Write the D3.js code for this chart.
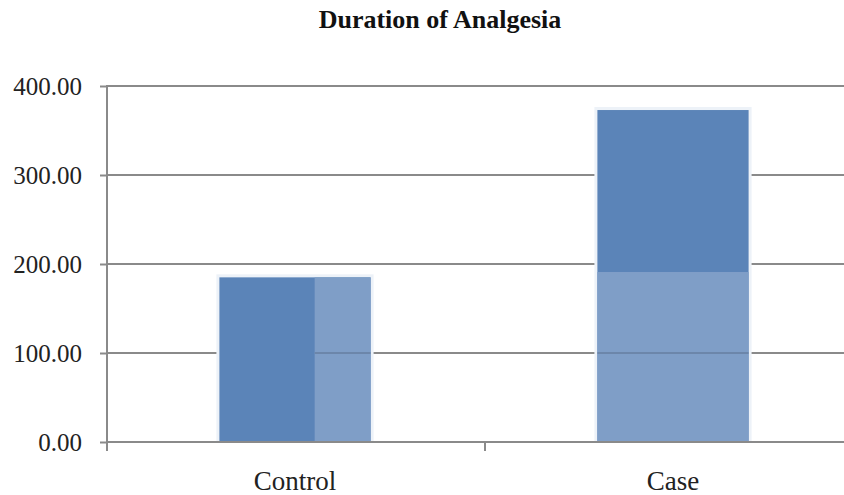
<!DOCTYPE html>
<html>
<head>
<meta charset="utf-8">
<script src="https://cdn.jsdelivr.net/npm/d3@7"></script>
<style>
  html, body { margin: 0; padding: 0; background: #fff; }
  svg { display: block; }
</style>
</head>
<body>
<script>
// Mean duration of analgesia per group
const categories = ["Control", "Case"];
const values = [185, 373];
// Lighter shaded part of each bar: horizontal fraction (x0..x1 of the bar width) and value range (y0..y1)
const shadeX = [[0.63, 1], [0, 1]];
const shadeY = [[0, 185], [0, 191]];
const yTicks = [0, 100, 200, 300, 400];
const title = "Duration of Analgesia";

const W = 844, H = 495;
const svg = d3.select("body").append("svg").attr("width", W).attr("height", H);

const x = d3.scaleBand().domain(categories).range([106, 862]).paddingInner(0).paddingOuter(0);
const y = d3.scaleLinear().domain([0, 400]).range([442, 86]);

const gridColor = "#8a8a8a";
const serif = "'Liberation Serif', 'DejaVu Serif', serif";

// Title
svg.append("text")
  .attr("x", 440).attr("y", 28)
  .attr("text-anchor", "middle")
  .attr("font-family", serif).attr("font-weight", "bold").attr("font-size", 26)
  .attr("fill", "#111")
  .text(title);

// Horizontal gridlines
svg.append("g").selectAll("line").data(yTicks.filter(d => d > 0)).join("line")
  .attr("x1", 106).attr("x2", W)
  .attr("y1", d => y(d)).attr("y2", d => y(d))
  .attr("stroke", gridColor).attr("stroke-width", 2);

// Bars
const bw = x.bandwidth() * 0.4;
const bx = d => x(d) + (x.bandwidth() - bw) / 2;

const bars = svg.append("g");
bars.selectAll("rect.halo").data(categories).join("rect")
  .attr("class", "halo")
  .attr("x", d => bx(d) - 3).attr("width", bw + 6)
  .attr("y", (d, i) => y(values[i]) - 3).attr("height", (d, i) => y(0) - y(values[i]) + 3)
  .attr("fill", "#edf2f8");
bars.selectAll("rect.main").data(categories).join("rect")
  .attr("class", "main")
  .attr("x", d => bx(d)).attr("width", bw)
  .attr("y", (d, i) => y(values[i])).attr("height", (d, i) => y(0) - y(values[i]))
  .attr("fill", "#5b84b8");

// Lighter shaded part, with gridlines showing through
const shade = svg.append("g");
shade.selectAll("rect").data(categories).join("rect")
  .attr("x", (d, i) => bx(d) + bw * shadeX[i][0])
  .attr("width", (d, i) => bw * (shadeX[i][1] - shadeX[i][0]))
  .attr("y", (d, i) => y(shadeY[i][1]))
  .attr("height", (d, i) => y(shadeY[i][0]) - y(shadeY[i][1]))
  .attr("fill", "#7f9ec7");
shade.selectAll("g").data(categories).join("g").each(function(d, i) {
  d3.select(this).selectAll("line")
    .data(yTicks.filter(t => t > shadeY[i][0] && t < shadeY[i][1]))
    .join("line")
    .attr("x1", bx(d) + bw * shadeX[i][0]).attr("x2", bx(d) + bw * shadeX[i][1])
    .attr("y1", t => y(t)).attr("y2", t => y(t))
    .attr("stroke", "#6c86aa").attr("stroke-width", 2);
});

// Y axis
const yAxis = svg.append("g").attr("transform", "translate(107,0)")
  .call(d3.axisLeft(y).tickValues(yTicks).tickFormat(d3.format(".2f")).tickSize(7).tickPadding(18));
yAxis.attr("font-family", serif);
yAxis.select(".domain").attr("stroke", gridColor).attr("stroke-width", 2).attr("d", `M0,${y(400)}V${y(0)}`);
yAxis.selectAll(".tick line").attr("stroke", gridColor).attr("stroke-width", 2);
yAxis.selectAll(".tick text")
  .attr("font-family", serif).attr("font-size", 25).attr("fill", "#222").attr("dy", "0.34em");

// X axis
const xAxis = svg.append("g").attr("transform", `translate(0,${y(0)})`)
  .call(d3.axisBottom(x).tickSize(0).tickPadding(29));
xAxis.attr("font-family", serif);
xAxis.select(".domain").attr("stroke", gridColor).attr("stroke-width", 2).attr("d", `M106,0H${W}`);
xAxis.selectAll(".tick text")
  .attr("font-family", serif).attr("font-size", 27).attr("fill", "#222");
// Category separators
xAxis.append("g").selectAll("line").data([x.range()[0], x(categories[1])]).join("line")
  .attr("x1", d => d + 1).attr("x2", d => d + 1).attr("y1", 0).attr("y2", 9)
  .attr("stroke", gridColor).attr("stroke-width", 2);
</script>
</body>
</html>
